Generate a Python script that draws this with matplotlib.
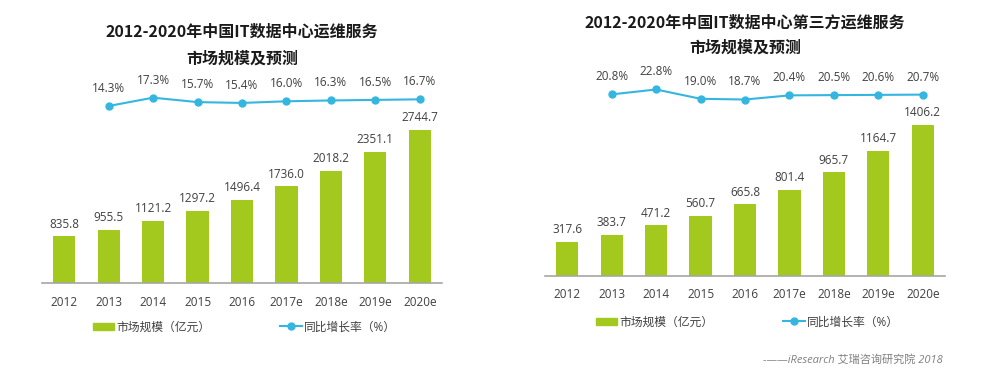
import matplotlib
matplotlib.use('Agg')
import matplotlib.pyplot as plt
from matplotlib.patches import Patch
from matplotlib.lines import Line2D

plt.rcParams['font.family'] = ['Open Sans', 'Noto Sans CJK SC', 'DejaVu Sans']

years = ['2012', '2013', '2014', '2015', '2016', '2017e', '2018e', '2019e', '2020e']

# left: IT data centre O&M services market (100M yuan)
market_all = [835.8, 955.5, 1121.2, 1297.2, 1496.4, 1736.0, 2018.2, 2351.1, 2744.7]
growth_all = [14.3, 17.3, 15.7, 15.4, 16.0, 16.3, 16.5, 16.7]

# right: third-party O&M services
market_3rd = [317.6, 383.7, 471.2, 560.7, 665.8, 801.4, 965.7, 1164.7, 1406.2]
growth_3rd = [20.8, 22.8, 19.0, 18.7, 20.4, 20.5, 20.6, 20.7]

title_all = ['2012-2020年中国IT数据中心运维服务', '市场规模及预测']
title_3rd = ['2012-2020年中国IT数据中心第三方运维服务', '市场规模及预测']
bar_label = '市场规模（亿元）'
line_label = '同比增长率（%）'
source = '-——iResearch 艾瑞咨询研究院 2018'

green = '#A3C81E'
blue = '#35B6E0'
txt = '#404040'

W, H = 1000, 385
fig = plt.figure(figsize=(W / 100, H / 100), dpi=100)


def panel(x0, base, bar_top, line_lim, bars, rates, title, title_y, leg_y):
    ax = fig.add_axes([x0 / W, 1 - base / H, 400 / W, 200 / H])
    pos = list(range(len(years)))
    ax.bar(pos, bars, width=0.5, color=green, zorder=2)
    ax.set_xlim(-0.5, len(years) - 0.5)
    ax.set_ylim(0, bar_top)
    for p, v in zip(pos, bars):
        ax.annotate('%.1f' % v, (p, v), xytext=(0, 4), textcoords='offset points',
                    ha='center', va='bottom', fontsize=8.5, color=txt)
    for s in ['top', 'left', 'right']:
        ax.spines[s].set_visible(False)
    ax.spines['bottom'].set_color('#A6A6A6')
    ax.spines['bottom'].set_linewidth(1.2)
    ax.set_yticks([])
    ax.set_xticks(pos)
    ax.set_xticklabels(years, fontsize=8.5, color=txt)
    ax.tick_params(axis='x', length=0, pad=9)

    ax2 = ax.twinx()
    ax2.set_ylim(*line_lim)
    ax2.axis('off')
    lp = pos[1:]
    ax2.plot(lp, rates, color=blue, linewidth=1.5, marker='o', markersize=5, zorder=3)
    for p, r in zip(lp, rates):
        ax2.annotate('%.1f%%' % r, (p, r), xytext=(0, 8), textcoords='offset points',
                     ha='center', va='bottom', fontsize=8.5, color=txt)

    for line, ty in zip(title, title_y):
        fig.text((x0 + 200) / W, 1 - ty / H, line, ha='center', va='center',
                 fontsize=11.5, fontweight='bold', color='#1A1A1A',
                 family=['Noto Sans CJK SC', 'DejaVu Sans'])

    h1 = Patch(color=green)
    fig.legend([h1], [bar_label], loc='center left',
               bbox_to_anchor=((x0 + 51) / W, 1 - leg_y / H), frameon=False,
               fontsize=8.5, handlelength=1.8, handleheight=0.5, handletextpad=0.15,
               borderpad=0, borderaxespad=0, labelcolor=txt)
    h2 = Line2D([], [], color=blue, linewidth=1.5, marker='o', markersize=5)
    fig.legend([h2], [line_label], loc='center left',
               bbox_to_anchor=((x0 + 238) / W, 1 - leg_y / H), frameon=False,
               fontsize=8.5, handlelength=1.9, handletextpad=0.15, numpoints=1,
               borderpad=0, borderaxespad=0, labelcolor=txt)


panel(42, 283, 3588, (-49.6, 22.6), market_all, growth_all, title_all, (32, 59), 327)
panel(545, 276, 1862, (-53.3, 28.3), market_3rd, growth_3rd, title_3rd, (23, 48), 322)

fig.text(943 / W, 1 - 360 / H, source, ha='right', va='center', fontsize=8,
         style='italic', color='#808080')

fig.savefig('out.png', dpi=100)
